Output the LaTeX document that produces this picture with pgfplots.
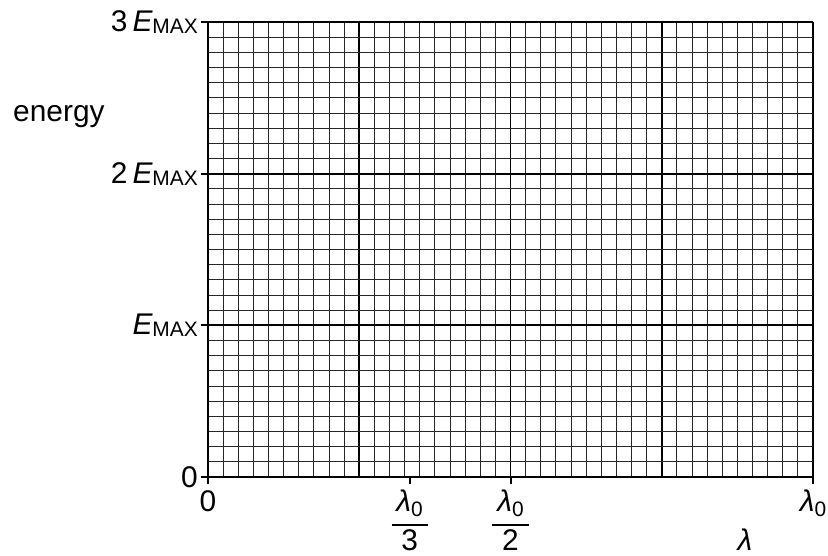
\documentclass[border=0pt]{standalone}
\usepackage{fontspec}
\setmainfont{Liberation Sans}
\usepackage{pgfplots}
\pgfplotsset{compat=1.18}

% lambda_0 and E_MAX in the text font
\newcommand\lz{{\itshape λ}\raisebox{-5bp}{\fontsize{21}{23}\selectfont 0}}
\newcommand\emax{{\itshape E}\raisebox{-2bp}{\fontsize{21}{23}\selectfont MAX}}
\newcommand\fr[1]{{\renewcommand\arraystretch{0.8}%
  \begin{tabular}{@{\,}c@{\,}}\lz\\[4bp]\hline\rule{0pt}{24bp}#1\end{tabular}}}

\pgfplotsset{
  sheet/.style={
    at={(0,0)}, anchor=south west,
    scale only axis, width=605bp, height=455bp,
    xmin=0, xmax=1, ymin=0, ymax=3,
  },
}

\begin{document}
\fontsize{30}{36}\selectfont%
\setlength{\arrayrulewidth}{1.8bp}%
\begin{tikzpicture}
% graph paper: 10 small squares per big square
\begin{axis}[
  sheet,
  axis line style={draw=none},
  tick style={draw=none},
  xtick={0,0.25,0.5,0.75,1}, ytick={0,1,2,3},
  xticklabels={}, yticklabels={},
  minor xtick={0.025,0.05,0.075,0.1,0.125,0.15,0.175,0.2,0.225,
               0.275,0.3,0.325,0.35,0.375,0.4,0.425,0.45,0.475,
               0.525,0.55,0.575,0.6,0.625,0.65,0.675,0.7,0.725,
               0.775,0.8,0.825,0.85,0.875,0.9,0.925,0.95,0.975},
  minor ytick={0.1,0.2,0.3,0.4,0.5,0.6,0.7,0.8,0.9,
               1.1,1.2,1.3,1.4,1.5,1.6,1.7,1.8,1.9,
               2.1,2.2,2.3,2.4,2.5,2.6,2.7,2.8,2.9},
  grid=both,
  minor grid style={black!85, line width=0.85bp},
  major grid style={black, line width=1.9bp},
]
\end{axis}
% axes, ticks and labels
\begin{axis}[
  sheet,
  axis x line=bottom, axis y line=left,
  axis line style={-, line width=2.4bp},
  tick align=outside, major tick length=7bp,
  tick style={black, line width=2bp},
  xtick={0,0.33333,0.5,1},
  xticklabels={0,\fr{3},\fr{2},\lz},
  ytick={0,1,2,3},
  yticklabels={0,\emax,2\,\emax,3\,\emax},
  tick label style={font=\fontsize{30}{36}\selectfont},
  xticklabel style={inner ysep=6bp},
  yticklabel style={inner xsep=3bp},
]
\end{axis}
\node[anchor=base west, inner sep=0pt] at (-195bp,355bp) {energy};
\node[anchor=base, inner sep=0pt] at (537bp,-73bp) {\itshape λ};
\pgfresetboundingbox
\path[use as bounding box] (-208bp,-79bp) rectangle (620bp,477bp);
\end{tikzpicture}
\end{document}
